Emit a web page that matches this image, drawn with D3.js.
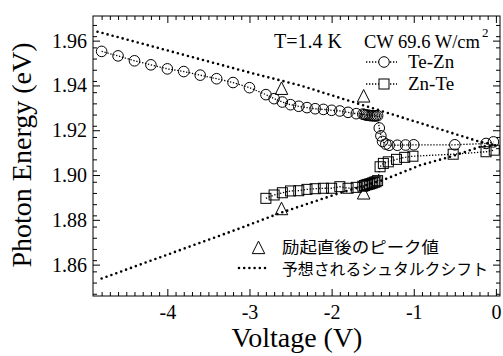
<!DOCTYPE html>
<html>
<head>
<meta charset="utf-8">
<script src="https://cdn.jsdelivr.net/npm/d3@7"></script>
<style>
  body { margin: 0; background: #fff; }
  svg { display: block; }
</style>
</head>
<body>
<div id="chart"></div>
<script>
// Te-Zn (circles)
const teZnV = [-4.8, -4.6, -4.4, -4.2, -4.0, -3.8, -3.6, -3.4, -3.2, -3.0,
  -2.8, -2.7, -2.6, -2.5, -2.4, -2.3, -2.2, -2.1, -2.0, -1.9, -1.8, -1.7,
  -1.62, -1.6, -1.58, -1.56, -1.54, -1.52, -1.5, -1.48, -1.46, -1.44,
  -1.42, -1.4, -1.38, -1.34, -1.3, -1.2, -1.1, -1.0, -0.5, -0.12, -0.03];
const teZnE = [1.9552, 1.9532, 1.9510, 1.9492, 1.9474, 1.9462, 1.9446, 1.9430, 1.9413, 1.9390,
  1.9359, 1.9341, 1.9326, 1.9314, 1.9307, 1.9301, 1.9296, 1.9293, 1.9289, 1.9286, 1.9280, 1.9274,
  1.9272, 1.9270, 1.9268, 1.9267, 1.9266, 1.9265, 1.9265, 1.9264, 1.9264, 1.9265,
  1.9210, 1.9175, 1.9150, 1.9138, 1.9133, 1.9133, 1.9134, 1.9135, 1.9135, 1.9141, 1.9148];

// Zn-Te (squares)
const znTeV = [-2.8, -2.7, -2.6, -2.5, -2.4, -2.3, -2.2, -2.1, -2.0, -1.9, -1.8, -1.7,
  -1.62, -1.6, -1.58, -1.56, -1.54, -1.52, -1.5, -1.48, -1.46, -1.44,
  -1.41, -1.37, -1.31, -1.21, -1.11, -1.01, -0.52, -0.12, -0.02];
const znTeE = [1.8896, 1.8911, 1.8921, 1.8929, 1.8930, 1.8936, 1.8939, 1.8941, 1.8941, 1.8948, 1.8941, 1.8945,
  1.8950, 1.8953, 1.8956, 1.8958, 1.8960, 1.8962, 1.8965, 1.8968, 1.8970, 1.8975,
  1.9037, 1.9052, 1.9059, 1.9070, 1.9079, 1.9084, 1.9093, 1.9104, 1.9111];

// peak values right after excitation (triangles)
const peakV = [-2.61, -1.61, -2.61, -1.61];
const peakE = [1.9385, 1.9351, 1.8848, 1.8918];

// expected Stark shift (thick dotted lines)
const starkUpV = [-4.85, -2.91, -2.38, -1.29, -0.19, 0.0];
const starkUpE = [1.9640, 1.9449, 1.9400, 1.9274, 1.9148, 1.9133];
const starkLoV = [-4.80, -3.11, -2.63, -1.94, -1.37, -0.92, -0.56, -0.19, 0.0];
const starkLoE = [1.8538, 1.8763, 1.8830, 1.8915, 1.8978, 1.9044, 1.9081, 1.9126, 1.9133];

const xMajor = [-4, -3, -2, -1, 0];
const yMajor = [1.86, 1.88, 1.90, 1.92, 1.94, 1.96];

const SERIF = '"Liberation Serif", "Times New Roman", Times, serif';
const JP = '"Noto Sans CJK JP", sans-serif';

const W = 503, H = 356;
const margin = {top: 16, right: 3, bottom: 60, left: 93};

const svg = d3.select("#chart").append("svg")
  .attr("width", W).attr("height", H);

const x = d3.scaleLinear().domain([-4.905, 0.05]).range([margin.left, W - margin.right]);
const y = d3.scaleLinear().domain([1.846, 1.971]).range([H - margin.bottom, margin.top]);

const x0 = margin.left, x1 = W - margin.right, y0 = H - margin.bottom, y1 = margin.top;

// minor tick values
const xMinor = d3.range(-48, 1).map(d => d / 10).filter(d => !xMajor.some(m => Math.abs(m - d) < 1e-6));
const yMinor = d3.range(1847, 1971, 5).map(d => d / 1000).filter(d => !yMajor.some(m => Math.abs(m - d) < 1e-6));

function addAxis(gen, tr, vals, size, fmt, pad) {
  const g = svg.append("g")
    .attr("transform", tr)
    .call(gen.tickValues(vals).tickSize(-size).tickSizeOuter(0).tickPadding(pad || 0).tickFormat(fmt || ""));
  g.attr("font-family", SERIF).attr("font-size", 20);
  g.select(".domain").remove();
  g.selectAll("line").attr("stroke", "#000").attr("stroke-width", 1);
  g.selectAll("text").attr("fill", "#000");
  return g;
}

// bottom
addAxis(d3.axisBottom(x), `translate(0,${y0})`, xMajor, 7, d => d === 0 ? "0" : "-" + Math.abs(d), 9);
addAxis(d3.axisBottom(x), `translate(0,${y0})`, xMinor, 4);
// top
addAxis(d3.axisTop(x), `translate(0,${y1})`, xMajor, 7);
addAxis(d3.axisTop(x), `translate(0,${y1})`, xMinor, 4);
// left
addAxis(d3.axisLeft(y), `translate(${x0},0)`, yMajor, 7, d3.format(".2f"), 6);
addAxis(d3.axisLeft(y), `translate(${x0},0)`, yMinor, 4);
// right
addAxis(d3.axisRight(y), `translate(${x1},0)`, yMajor, 7);
addAxis(d3.axisRight(y), `translate(${x1},0)`, yMinor, 4);

// frame
svg.append("rect")
  .attr("x", x0).attr("y", y1)
  .attr("width", x1 - x0).attr("height", y0 - y1)
  .attr("fill", "none").attr("stroke", "#000").attr("stroke-width", 1);

const line = d3.line().x(d => x(d[0])).y(d => y(d[1]));
const zip = (a, b) => a.map((v, i) => [v, b[i]]);

// Stark shift lines
[zip(starkUpV, starkUpE), zip(starkLoV, starkLoE)].forEach(pts => {
  svg.append("path").attr("d", line(pts))
    .attr("fill", "none").attr("stroke", "#000")
    .attr("stroke-width", 2.6).attr("stroke-linecap", "round")
    .attr("stroke-dasharray", "0,5.2");
});

// series lines
const teZn = zip(teZnV, teZnE);
const znTe = zip(znTeV, znTeE);
[teZn, znTe].forEach(pts => {
  svg.append("path").attr("d", line(pts))
    .attr("fill", "none").attr("stroke", "#000")
    .attr("stroke-width", 1.3).attr("stroke-dasharray", "1.3,1.7");
});

// markers
svg.append("g").selectAll("circle").data(teZn).join("circle")
  .attr("cx", d => x(d[0])).attr("cy", d => y(d[1])).attr("r", 5.3)
  .attr("fill", "none").attr("stroke", "#000").attr("stroke-width", 1);

const sq = 10;
svg.append("g").selectAll("rect").data(znTe).join("rect")
  .attr("x", d => x(d[0]) - sq / 2).attr("y", d => y(d[1]) - sq / 2)
  .attr("width", sq).attr("height", sq)
  .attr("fill", "none").attr("stroke", "#000").attr("stroke-width", 1);

const tri = (cx, cy, s) => `M${cx},${cy - s * 0.55}L${cx + s / 2},${cy + s * 0.45}L${cx - s / 2},${cy + s * 0.45}Z`;
svg.append("g").selectAll("path").data(zip(peakV, peakE)).join("path")
  .attr("d", d => tri(x(d[0]), y(d[1]), 12.5))
  .attr("fill", "none").attr("stroke", "#000").attr("stroke-width", 1);

// axis titles
svg.append("text").attr("font-family", SERIF)
  .attr("x", 297).attr("y", 347).attr("text-anchor", "middle")
  .attr("font-size", 28).text("Voltage (V)");
svg.append("text").attr("font-family", SERIF)
  .attr("transform", "translate(31,155) rotate(-90)").attr("text-anchor", "middle")
  .attr("font-size", 28).text("Photon Energy (eV)");

// upper legend
svg.append("text").attr("font-family", SERIF).attr("x", 274).attr("y", 48).attr("font-size", 20).text("T=1.4 K");
const cw = svg.append("text").attr("font-family", SERIF).attr("x", 364).attr("y", 48).attr("font-size", 18.5);
cw.append("tspan").text("CW 69.6 W/cm");
cw.append("tspan").attr("font-size", 13).attr("dy", -11).attr("dx", 2).text("2");

const legLine = (ly) => svg.append("line")
  .attr("x1", 366).attr("x2", 397).attr("y1", ly).attr("y2", ly)
  .attr("stroke", "#000").attr("stroke-width", 1.3).attr("stroke-dasharray", "1.3,1.7");
legLine(62);
svg.append("circle").attr("cx", 384).attr("cy", 62).attr("r", 5.3)
  .attr("fill", "#fff").attr("stroke", "#000");
svg.append("text").attr("font-family", SERIF).attr("x", 408).attr("y", 67.5).attr("font-size", 19).text("Te-Zn");
legLine(84);
svg.append("rect").attr("x", 384 - sq / 2).attr("y", 84 - sq / 2).attr("width", sq).attr("height", sq)
  .attr("fill", "#fff").attr("stroke", "#000");
svg.append("text").attr("font-family", SERIF).attr("x", 408).attr("y", 89.5).attr("font-size", 19).text("Zn-Te");

// lower legend
svg.append("path").attr("d", tri(258.5, 248, 12.5)).attr("fill", "none").attr("stroke", "#000");
svg.append("text").attr("font-family", JP).attr("x", 282).attr("y", 252.5).attr("font-size", 16)
  .attr("textLength", 157).attr("lengthAdjust", "spacingAndGlyphs").text("励起直後のピーク値");
svg.append("line").attr("x1", 239).attr("x2", 266).attr("y1", 268).attr("y2", 268)
  .attr("stroke", "#000").attr("stroke-width", 2.6).attr("stroke-linecap", "round")
  .attr("stroke-dasharray", "0,5.2");
svg.append("text").attr("font-family", JP).attr("x", 282).attr("y", 274.5).attr("font-size", 16)
  .attr("textLength", 206).attr("lengthAdjust", "spacingAndGlyphs").text("予想されるシュタルクシフト");
</script>
</body>
</html>
